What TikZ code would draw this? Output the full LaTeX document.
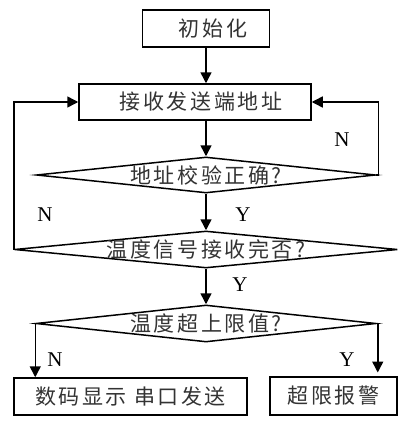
\documentclass[tikz,border=0pt]{standalone}
\usepackage{fontspec}
\setmainfont{Liberation Serif}
\newfontfamily\cjk[LetterSpace=12]{Noto Sans CJK SC}
\usetikzlibrary{arrows.meta,shapes.geometric}
\begin{document}
\begin{tikzpicture}[x=1pt,y=-1pt]
\tikzset{
  box/.style={draw, line width=1.5pt, inner sep=0pt, font=\cjk\fontsize{21}{24}\selectfont, text=black!80},
  dia/.style={draw, shape=diamond, line width=1.5pt, inner sep=0pt},
  txt/.style={inner sep=0pt, font=\cjk\fontsize{21}{24}\selectfont, text=black!80},
  lbl/.style={inner sep=0pt, font=\fontsize{21}{24}\selectfont},
  arr/.style={line width=1.5pt, -{Triangle[length=11pt,width=11pt]}},
}
\useasboundingbox (0,0) rectangle (406,423);
\node[box, minimum width=127pt, minimum height=37pt] (init) at (206,28.5) {\hspace*{14pt}初始化};
\node[box, minimum width=232pt, minimum height=36pt] (recv) at (195,102) {\hspace*{12pt}接收发送端地址};
\node[dia, minimum width=339pt, minimum height=36pt] (d1) at (206,175) {};
\node[txt] (t1) at (d1.center) {地址校验正确?};
\node[dia, minimum width=383pt, minimum height=37pt] (d2) at (206,249.5) {};
\node[txt] (t2) at (d2.center) {温度信号接收完否?};
\node[dia, minimum width=340pt, minimum height=37pt] (d3) at (206,323.5) {};
\node[txt] (t3) at (d3.center) {温度超上限值?};
\node[box, minimum width=233pt, minimum height=37pt] (lb) at (130.5,396.5) {数码显示\ 串口发送};
\node[box, minimum width=127pt, minimum height=38pt] (rb) at (333.5,396) {超限报警};
\draw[arr] (init.south) -- (init.south |- recv.north);
\draw[arr] (recv.south -| d1.north) -- (d1.north);
\draw[arr] (d1.south) -- (d2.north);
\draw[arr] (d2.south) -- (d3.north);
\draw[arr] (d2.west) |- (recv.west);
\draw[arr] (d1.east) -- ++(2,0) |- (recv.east);
\draw[arr] (d3.west) -- (d3.west |- lb.north);
\draw[arr] (d3.east) -- ++(1,0) -- ++(0,49);
\node[lbl] (n1) at (342,140) {N};
\node[lbl] (n2) at (45,215) {N};
\node[lbl] (y1) at (243,215) {Y};
\node[lbl] (y2) at (240,285) {Y};
\node[lbl] (n3) at (55,360) {N};
\node[lbl] (y3) at (347,360) {Y};
\end{tikzpicture}
\end{document}
